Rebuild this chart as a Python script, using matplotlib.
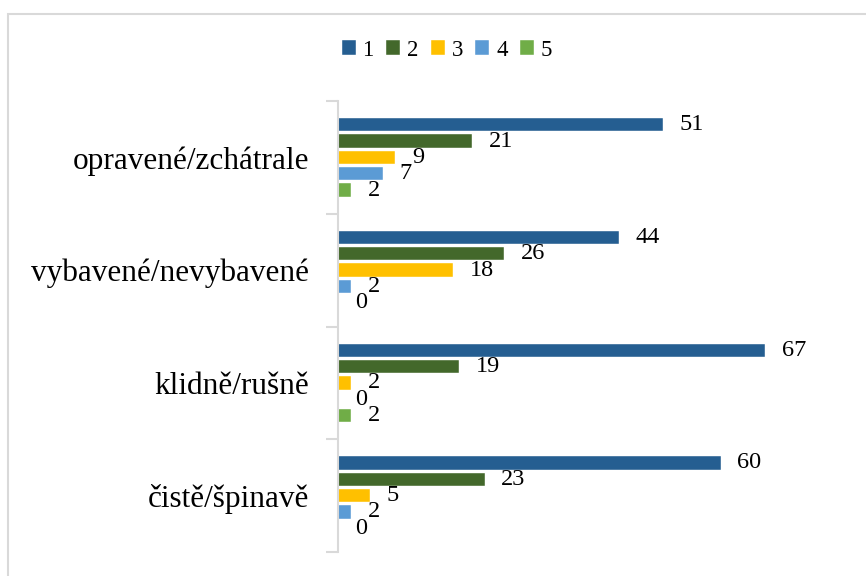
import numpy as np
import matplotlib
matplotlib.use("Agg")
import matplotlib.pyplot as plt
from matplotlib.patches import Rectangle

# Data (categories listed top to bottom)
categories = ["opravené/zchátrale", "vybavené/nevybavené", "klidně/rušně", "čistě/špinavě"]
series_names = ["1", "2", "3", "4", "5"]
s1 = [51, 44, 67, 60]
s2 = [21, 26, 19, 23]
s3 = [9, 18, 2, 5]
s4 = [7, 2, 0, 2]
s5 = [2, 0, 2, 0]
colors = ["#255E91", "#43682B", "#FFC000", "#5B9BD5", "#70AD47"]

plt.rcParams["font.family"] = ["Liberation Serif", "DejaVu Serif"]

fig = plt.figure(figsize=(8.66, 5.76), dpi=100)
ax = fig.add_axes([338 / 866, 1 - 552 / 576, 510 / 866, 451 / 576])

# outer chart border (only top/left visible in the reference)
fig.patches.append(Rectangle((8 / 866, -0.05), 1.1, 1 - 14 / 576 + 0.05,
                             transform=fig.transFigure, fill=False,
                             edgecolor="#D9D9D9", linewidth=1.5))

y = np.arange(len(categories))
pitch = 0.145
height = 0.118
for i, vals in enumerate([s1, s2, s3, s4, s5]):
    pos = y + (i - 2) * pitch
    ax.barh(pos, vals, height=height, color=colors[i], label=series_names[i],
            edgecolor="white", linewidth=0.3)
    for p, v in zip(pos, vals):
        ax.annotate(str(v), (v, p), xytext=(12, 0), textcoords="offset points",
                    ha="left", va="center", fontsize=17.5)

ax.set_xlim(0, 80)
ax.set_ylim(len(categories) - 0.5, -0.5)

for s in ["top", "right", "bottom"]:
    ax.spines[s].set_visible(False)
ax.spines["left"].set_color("#D9D9D9")
ax.spines["left"].set_linewidth(1.5)
ax.set_xticks([])

ax.set_yticks(np.arange(len(categories) + 1) - 0.5)
ax.set_yticklabels([])
ax.tick_params(axis="y", which="major", length=9, width=1.5, color="#D9D9D9")
ax.set_yticks(y, minor=True)
ax.set_yticklabels(categories, minor=True, fontsize=22.5)
ax.tick_params(axis="y", which="minor", length=0, pad=21)

ax.legend(loc="center", bbox_to_anchor=(447 / 866, 1 - 50 / 576),
          bbox_transform=fig.transFigure, ncol=5, frameon=False, fontsize=16.5,
          handlelength=0.6, handleheight=0.6, handletextpad=0.3,
          columnspacing=0.55)

fig.savefig("out.png", dpi=100)
